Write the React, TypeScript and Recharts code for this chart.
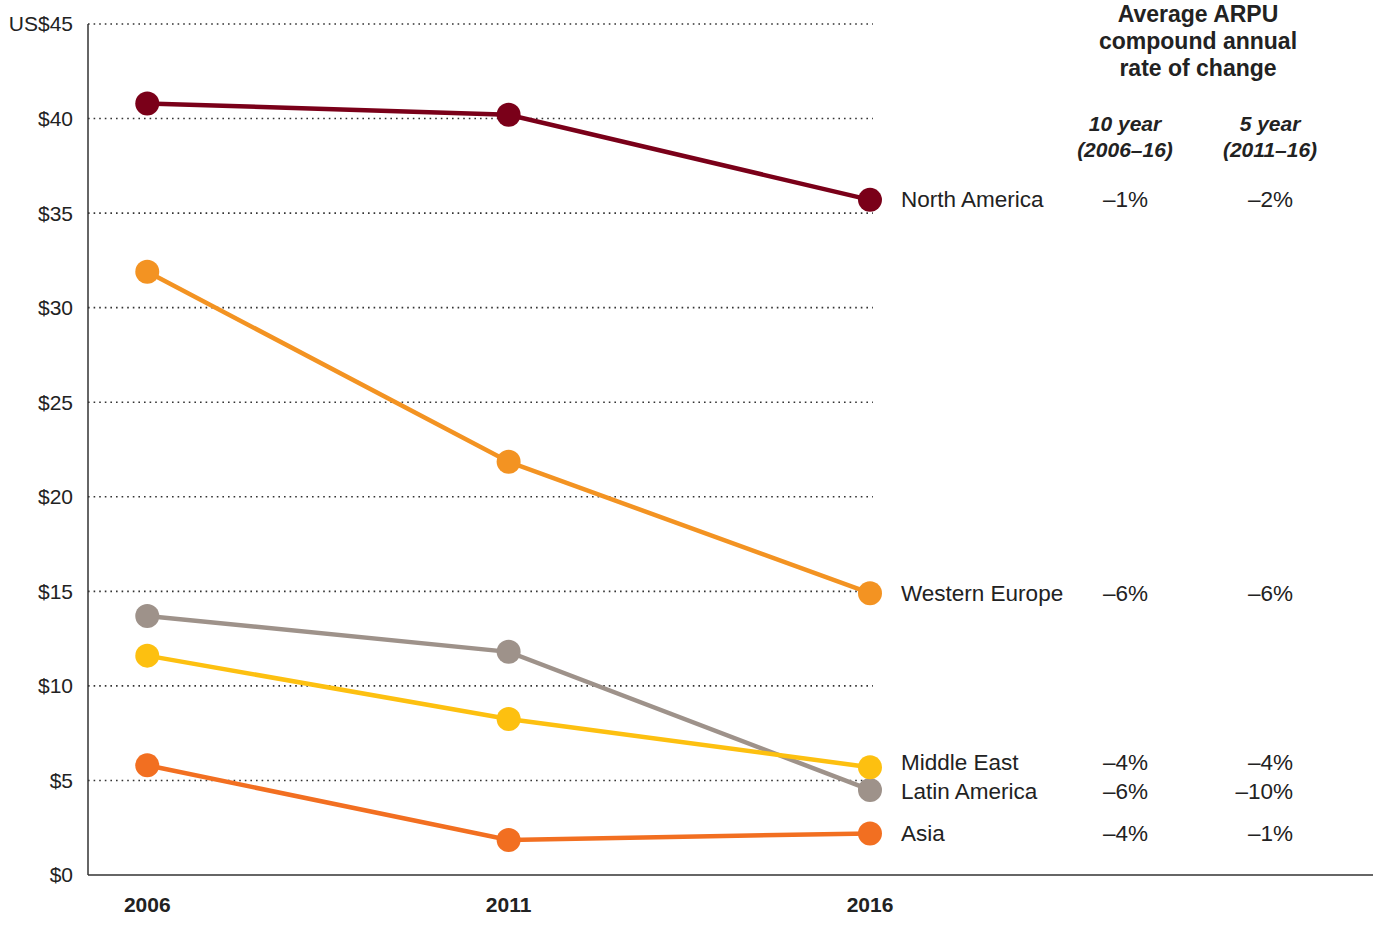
import React from 'react';
import { LineChart, Line, XAxis, YAxis, ReferenceLine, LabelList } from 'recharts';

const years = [2006, 2011, 2016];
const regions = ['North America', 'Western Europe', 'Latin America', 'Middle East', 'Asia'];
const northAmerica = [40.8, 40.2, 35.7];
const westernEurope = [31.9, 21.85, 14.9];
const latinAmerica = [13.7, 11.8, 4.5];
const middleEast = [11.6, 8.25, 5.7];
const asia = [5.8, 1.85, 2.2];
const tenYear = ['–1%', '–6%', '–6%', '–4%', '–4%'];
const fiveYear = ['–2%', '–6%', '–10%', '–4%', '–1%'];
const yTicks = [0, 5, 10, 15, 20, 25, 30, 35, 40, 45];

const keys = ['na', 'we', 'la', 'me', 'asia'];
const colors = ['#7a0019', '#f39322', '#9e928a', '#fdc010', '#f26f21'];
const labelShift = [0, 0, 2, -5, 0];

const data = years.map((year, i) => ({
  year,
  na: northAmerica[i],
  we: westernEurope[i],
  la: latinAmerica[i],
  me: middleEast[i],
  asia: asia[i],
}));

const font = '"Liberation Sans", Arial, sans-serif';

function endLabel(idx: number) {
  return (props: any) => {
    if (props.index !== years.length - 1) return null;
    const y = Number(props.y) + labelShift[idx];
    return (
      <g fontFamily={font} fontSize={22.5} fill="#222">
        <text x={Number(props.x) + 31} y={y} dominantBaseline="central">{regions[idx]}</text>
        <text x={1148} y={y} textAnchor="end" dominantBaseline="central">{tenYear[idx]}</text>
        <text x={1293} y={y} textAnchor="end" dominantBaseline="central">{fiveYear[idx]}</text>
      </g>
    );
  };
}

// draw order: yellow above gray
const order = [0, 1, 4, 2, 3];

export default function App() {
  return (
    <div style={{ position: 'absolute', left: 0, top: 0, width: 1383, height: 931, background: '#fff' }}>
      <LineChart width={1383} height={931} data={data} margin={{ top: 24, right: 10, left: 0, bottom: 0 }}>
        <XAxis
          dataKey="year"
          type="number"
          domain={[2005.18, 2022.96]}
          ticks={years}
          tickLine={false}
          tickMargin={16}
          height={56}
          axisLine={{ stroke: '#333', strokeWidth: 1.5 }}
          tick={{ fill: '#222', fontSize: 21, fontWeight: 700, fontFamily: font }}
        />
        <YAxis
          domain={[0, 45]}
          ticks={yTicks}
          width={88}
          tickLine={false}
          tickMargin={9}
          axisLine={{ stroke: '#333', strokeWidth: 1.5 }}
          tickFormatter={(v: number) => (v === 45 ? 'US$45' : '$' + v)}
          tick={{ fill: '#222', fontSize: 21, fontFamily: font }}
        />
        {yTicks.filter((v) => v > 0).map((v) => (
          <ReferenceLine
            key={v}
            segment={[{ x: 2005.18, y: v }, { x: 2016.04, y: v }]}
            stroke="#333"
            strokeWidth={1.6}
            strokeDasharray="1.6 4"
          />
        ))}
        {order.map((i) => (
          <Line
            key={keys[i]}
            dataKey={keys[i]}
            stroke={colors[i]}
            strokeWidth={4.5}
            dot={{ r: 12, fill: colors[i], stroke: 'none' }}
            activeDot={false}
            isAnimationActive={false}
          >
            <LabelList dataKey={keys[i]} content={endLabel(i)} />
          </Line>
        ))}
      </LineChart>
      <div
        style={{
          position: 'absolute',
          left: 1048,
          top: 1,
          width: 300,
          textAlign: 'center',
          fontFamily: font,
          fontWeight: 700,
          fontSize: 23,
          lineHeight: '27px',
          color: '#222',
        }}
      >
        Average ARPU
        <br />
        compound annual
        <br />
        rate of change
      </div>
      {[
        { cx: 1125, a: '10 year', b: '(2006–16)' },
        { cx: 1270, a: '5 year', b: '(2011–16)' },
      ].map((h) => (
        <div
          key={h.a}
          style={{
            position: 'absolute',
            left: h.cx - 80,
            top: 111,
            width: 160,
            textAlign: 'center',
            fontFamily: font,
            fontWeight: 700,
            fontStyle: 'italic',
            fontSize: 21,
            lineHeight: '26px',
            color: '#222',
          }}
        >
          {h.a}
          <br />
          {h.b}
        </div>
      ))}
    </div>
  );
}
